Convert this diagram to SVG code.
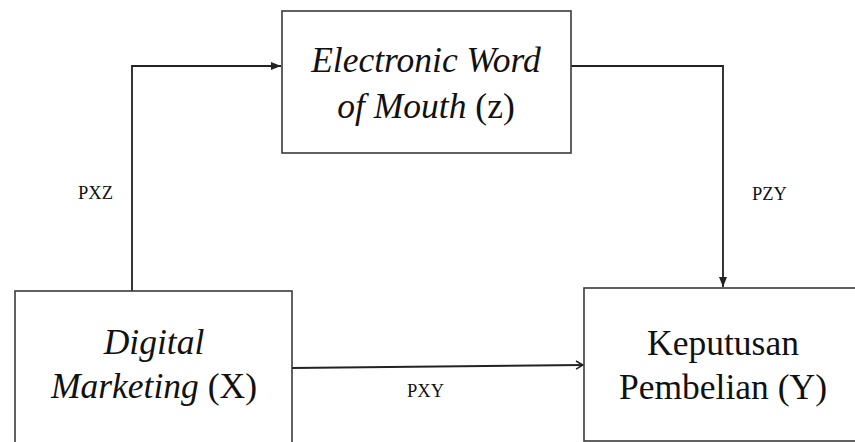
<svg xmlns="http://www.w3.org/2000/svg" width="855" height="442" viewBox="0 0 855 442">
<style>
.box{fill:#fff;stroke:#3a3a3a;stroke-width:1.6}
.con{fill:none;stroke:#222;stroke-width:1.8}
.t{font-family:"Liberation Serif","Times New Roman",serif;font-size:35.5px;fill:#111;text-anchor:middle}
.i{font-style:italic}
.lab{font-family:"Liberation Serif","Times New Roman",serif;font-size:18.5px;fill:#111}
</style>
<defs>
<marker id="tri" viewBox="0 0 10 10" refX="10" refY="5" markerWidth="10" markerHeight="10" markerUnits="userSpaceOnUse" orient="auto">
<path d="M0,1 L10,5 L0,9 Z" fill="#222"/>
</marker>
<marker id="chev" viewBox="0 0 10 10" refX="9" refY="5" markerWidth="10" markerHeight="10" markerUnits="userSpaceOnUse" orient="auto">
<path d="M2,1 L9,5 L2,9" fill="none" stroke="#222" stroke-width="1.6"/>
</marker>
</defs>
<rect width="855" height="442" fill="#fff"/>
<g id="connectors">
<path class="con" d="M132,291 L132,66 L281,66" marker-end="url(#tri)"/>
<path class="con" d="M571,66 L723,66 L723,287" marker-end="url(#tri)"/>
<path class="con" d="M292,368 L583,365" marker-end="url(#chev)"/>
<text class="lab" x="78" y="199">PXZ</text>
<text class="lab" x="752" y="200">PZY</text>
<text class="lab" x="407" y="397">PXY</text>
</g>
<g id="node-z">
<rect class="box" x="282" y="11" width="289" height="142"/>
<text class="t" x="426" y="72"><tspan class="i">Electronic Word</tspan></text>
<text class="t" x="426" y="118"><tspan class="i">of Mouth</tspan> (z)</text>
</g>
<g id="node-x">
<rect class="box" x="15" y="291" width="277" height="160"/>
<text class="t" x="154" y="354"><tspan class="i">Digital</tspan></text>
<text class="t" x="154" y="398"><tspan class="i">Marketing</tspan> (X)</text>
</g>
<g id="node-y">
<rect class="box" x="584" y="288" width="280" height="153"/>
<text class="t" x="723" y="355">Keputusan</text>
<text class="t" x="723" y="399">Pembelian (Y)</text>
</g>
</svg>
